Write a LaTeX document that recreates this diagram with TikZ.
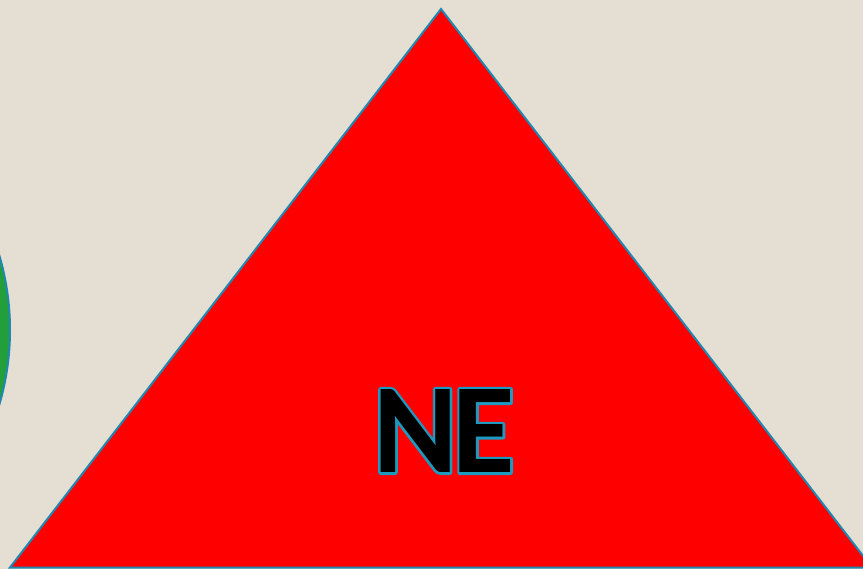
\documentclass[tikz,border=0pt]{standalone}
\usepackage{fontspec}
\setmainfont{Carlito}
\definecolor{paper}{RGB}{228,222,211}
\definecolor{edgeblue}{RGB}{30,136,176}
\definecolor{ballgreen}{RGB}{34,158,58}
\definecolor{rimblue}{RGB}{28,154,192}
\newcommand{\bigword}{\bfseries\fontsize{128}{128}\selectfont N\kern-5pt E}
\newcommand{\rimword}{\special{pdf:literal direct 2 Tr 5 w 1 j}\bigword\special{pdf:literal direct 0 Tr}}

\begin{document}
\begin{tikzpicture}[x=1pt,y=-1pt]
        \fill[paper] (0,0) rectangle (863,569);
        \useasboundingbox (0,0) rectangle (863,569);
        \clip (0,0) rectangle (863,569);
        \draw[edgeblue,line width=2pt,fill=ballgreen] (-254,330) circle (264pt);
        \coordinate (apex) at (441,9);
        \coordinate (leftfoot) at (10,567.5);
        \coordinate (rightfoot) at (872,567.5);
        \draw[edgeblue,line width=2pt,fill=red,line join=miter] (apex) -- (leftfoot) -- (rightfoot) -- cycle;
        \node[rimblue,inner sep=0pt] (rim) at (444,431) {\rimword};
        \node[black,inner sep=0pt] (word) at (rim.center) {\bigword};
    \end{tikzpicture}
\end{document}
